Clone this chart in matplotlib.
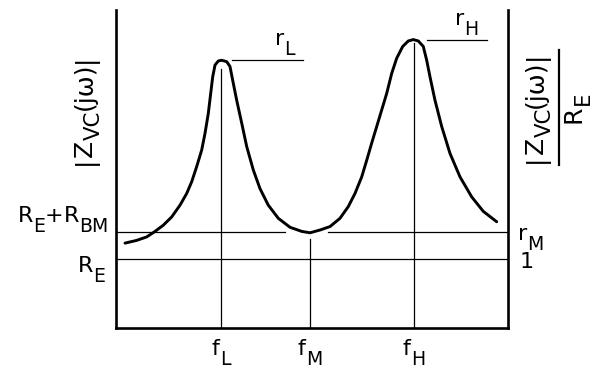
import matplotlib
matplotlib.use("Agg")
import matplotlib.pyplot as plt
from matplotlib.transforms import offset_copy

# --- data (x: frequency in arbitrary units, y: |Z_VC| / R_E) ---
freq = [9, 20.7, 30.7, 39, 47.3, 55.7, 64, 70.7, 75.7, 80.7, 85.7, 89, 92.3, 94.7,
        96.7, 99, 102.3, 105.7, 110.7, 114, 116.7, 120.7, 125.7, 130.7, 137.3, 144,
        152.3, 162.3, 174, 185.7, 194, 204, 214, 224, 232.3, 239, 245.7, 250.7,
        255.7, 260.7, 265.7, 270.7, 275.7, 280.7, 286.7, 292.3, 297.3, 302.3, 307.3,
        310.7, 314, 319, 325.7, 334, 344, 355.7, 367.3, 380.7]
imped = [1.23, 1.27, 1.32, 1.40, 1.49, 1.61, 1.78, 1.95, 2.12, 2.34, 2.58, 2.82, 3.11,
         3.40, 3.64, 3.81, 3.87, 3.88, 3.86, 3.79, 3.59, 3.30, 2.97, 2.63, 2.29, 2.02,
         1.78, 1.59, 1.46, 1.40, 1.38, 1.42, 1.47, 1.59, 1.76, 1.95, 2.19, 2.43, 2.68,
         2.92, 3.16, 3.40, 3.69, 3.91, 4.08, 4.16, 4.18, 4.16, 4.08, 3.88, 3.64, 3.30,
         2.92, 2.53, 2.19, 1.90, 1.69, 1.54]
f_L, f_M, f_H = 105, 194, 298
r_L, r_H, r_M, r_E = 3.88, 4.18, 1.39, 1.0
freq_labels = [("f", "L"), ("f", "M"), ("f", "H")]

plt.rcParams['font.family'] = ['DejaVu Sans']

DPI = 100
fig = plt.figure(figsize=(6.01, 3.68), dpi=DPI)
ax = fig.add_axes([116/601, 1-328/368, (508-116)/601, (328-10)/368])
ax.set_xlim(0, 392)
ax.set_ylim(0, (328-10)/69)
for s in ['left', 'right', 'bottom']:
    ax.spines[s].set_linewidth(1.9)
ax.spines['top'].set_visible(False)
ax.set_xticks([])
ax.set_yticks([])

k = 'black'
thin = 0.9
ax.plot(freq, imped, color=k, lw=2.1, solid_capstyle='round', solid_joinstyle='round')
ax.plot([0, 169], [r_M, r_M], color=k, lw=thin)
ax.plot([212, 392], [r_M, r_M], color=k, lw=thin)
ax.axhline(r_E, color=k, lw=thin)
ax.plot([f_L, f_L], [0, 3.75], color=k, lw=thin)
ax.plot([f_M, f_M], [0, 1.29], color=k, lw=thin)
ax.plot([f_H, f_H], [0, 4.13], color=k, lw=thin)
ax.plot([116, 187], [r_L, r_L], color=k, lw=thin)
ax.plot([311, 371], [r_H, r_H], color=k, lw=thin)

renderer = fig.canvas.get_renderer()


def rich(x, y, parts, fs, ha='left', rot=0, sub_scale=0.85, sub_drop=0.45):
    items = []
    cursor = 0.0
    for s, sub in parts:
        size = fs * sub_scale if sub else fs
        drop = fs * sub_drop * DPI / 72 if sub else 0.0
        t = ax.text(x, y, s, fontsize=size, ha='left', va='baseline', rotation=rot,
                    rotation_mode='anchor', clip_on=False)
        bb = t.get_window_extent(renderer)
        items.append((t, cursor, drop))
        cursor += bb.width if rot == 0 else bb.height
    shift = {'left': 0.0, 'center': -cursor / 2, 'right': -cursor}[ha]
    for t, c, drop in items:
        a = c + shift
        dx, dy = (a, -drop) if rot == 0 else (drop, a)
        t.set_transform(offset_copy(ax.transData, fig=fig, x=dx, y=dy, units='dots'))


fs = 16
for fx, (a, b) in zip([f_L, f_M, f_H], freq_labels):
    rich(fx, -0.39, [(a, False), (b, True)], fs, ha='center')

rich(159, 4.10, [("r", False), ("L", True)], fs)
rich(339, 4.39, [("r", False), ("H", True)], fs)
rich(-8, 1.54, [("R", False), ("E", True), ("+", False), ("R", False), ("BM", True)], fs, ha='right')
rich(-11, 0.81, [("R", False), ("E", True)], fs, ha='right')
rich(402, 1.28, [("r", False), ("M", True)], fs)
rich(404, 0.87, [("1", False)], fs)

zlab = [("|", False), ("Z", False), ("VC", True), ("(jω)", False), ("|", False)]
rich(-24, 3.16, zlab, 18, ha='center', rot=90, sub_drop=0.3)
rich(427, 3.20, zlab, 18, ha='center', rot=90, sub_drop=0.3)
ax.plot([443, 443], [(328-50)/69, (328-165)/69], color=k, lw=1.6, clip_on=False)
rich(465, 3.20, [("R", False), ("E", True)], 18, ha='center', rot=90, sub_drop=0.3)

fig.savefig("out.png", dpi=DPI)
